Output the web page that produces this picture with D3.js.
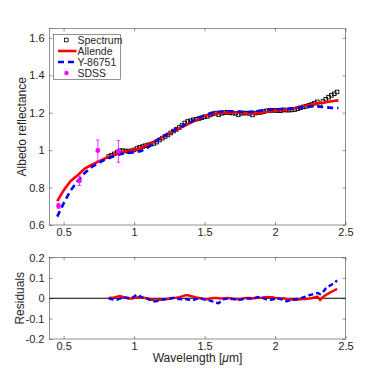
<!DOCTYPE html>
<html>
<head>
<meta charset="utf-8">
<script src="https://cdn.jsdelivr.net/npm/d3@7"></script>
<style>
  body { margin: 0; background: #fff; }
  text { font-family: "Liberation Sans", Arial, Helvetica, sans-serif; fill: #262626; }
</style>
</head>
<body>
<div id="chart"></div>
<script>
// data
var specWave = [0.82, 0.84, 0.86, 0.88, 0.90, 0.92, 0.94, 0.96, 0.98, 1.00,
  1.02, 1.04, 1.06, 1.08, 1.10, 1.12, 1.14, 1.16, 1.18, 1.20,
  1.22, 1.24, 1.26, 1.28, 1.30, 1.32, 1.34, 1.36, 1.38, 1.40,
  1.42, 1.44, 1.46, 1.48, 1.50, 1.52, 1.54, 1.56, 1.58, 1.60,
  1.62, 1.64, 1.66, 1.68, 1.70, 1.72, 1.74, 1.76, 1.78, 1.80,
  1.82, 1.84, 1.86, 1.88, 1.90, 1.92, 1.94, 1.96, 1.98, 2.00,
  2.02, 2.04, 2.06, 2.08, 2.10, 2.12, 2.14, 2.16, 2.18, 2.20,
  2.22, 2.24, 2.26, 2.28, 2.30, 2.32, 2.34, 2.36, 2.38, 2.40,
  2.42, 2.44];
var spectrum = [0.966, 0.973, 0.980, 0.989, 0.997, 0.997, 0.995, 0.995, 0.996, 1.001,
  1.009, 1.015, 1.019, 1.024, 1.028, 1.032, 1.036, 1.043, 1.054, 1.064,
  1.073, 1.081, 1.092, 1.102, 1.111, 1.121, 1.132, 1.145, 1.153, 1.157,
  1.162, 1.165, 1.169, 1.173, 1.178, 1.181, 1.188, 1.194, 1.198, 1.190,
  1.197, 1.200, 1.202, 1.200, 1.198, 1.197, 1.190, 1.197, 1.198, 1.198,
  1.197, 1.188, 1.198, 1.201, 1.202, 1.206, 1.210, 1.211, 1.213, 1.212,
  1.212, 1.211, 1.215, 1.214, 1.214, 1.215, 1.217, 1.222, 1.226, 1.231,
  1.234, 1.239, 1.244, 1.251, 1.258, 1.244, 1.260, 1.272, 1.283, 1.293,
  1.301, 1.311];

var modelWave = [0.455, 0.50, 0.55, 0.60, 0.65, 0.70, 0.75, 0.80, 0.85, 0.90,
  0.95, 1.00, 1.05, 1.10, 1.15, 1.20, 1.25, 1.30, 1.35, 1.40,
  1.45, 1.50, 1.55, 1.60, 1.65, 1.70, 1.75, 1.80, 1.85, 1.90,
  1.95, 2.00, 2.05, 2.10, 2.15, 2.20, 2.25, 2.30, 2.35, 2.40, 2.45];
var allende = [0.728, 0.785, 0.835, 0.866, 0.902, 0.922, 0.940, 0.958, 0.973, 0.986,
  0.995, 1.000, 1.013, 1.030, 1.050, 1.070, 1.089, 1.108, 1.127, 1.146,
  1.165, 1.182, 1.192, 1.198, 1.200, 1.201, 1.201, 1.196, 1.196, 1.200,
  1.205, 1.210, 1.214, 1.219, 1.226, 1.234, 1.243, 1.250, 1.255, 1.261, 1.266];
var y86751 = [0.645, 0.715, 0.785, 0.835, 0.878, 0.910, 0.932, 0.952, 0.966, 0.978,
  0.985, 0.988, 0.995, 1.015, 1.045, 1.070, 1.092, 1.112, 1.132, 1.150,
  1.168, 1.186, 1.198, 1.205, 1.208, 1.208, 1.206, 1.204, 1.206, 1.212,
  1.216, 1.218, 1.220, 1.222, 1.226, 1.230, 1.233, 1.234, 1.230, 1.226, 1.225];

var sdssWave = [0.464, 0.613, 0.743, 0.889];
var sdss = [0.702, 0.836, 0.998, 0.993];
var sdssErr = [0.013, 0.025, 0.056, 0.058];

var resAllende = [0.002, 0.003, 0.004, 0.008, 0.011, 0.007, 0.002, -0.001, -0.002, 0.001,
  0.004, 0.005, 0.003, 0.001, -0.002, -0.006, -0.010, -0.011, -0.008, -0.006,
  -0.005, -0.004, -0.001, 0.002, 0.003, 0.005, 0.009, 0.014, 0.015, 0.011,
  0.008, 0.004, 0.001, -0.002, -0.004, -0.005, -0.002, 0.001, 0.002, 0.000,
  -0.002, 0.000, 0.002, 0.000, -0.003, -0.004, -0.005, -0.003, 0.000, 0.002,
  0.001, -0.001, 0.001, 0.003, 0.002, 0.004, 0.006, 0.005, 0.005, 0.002,
  0.000, -0.002, 0.000, -0.003, -0.005, -0.007, -0.008, -0.006, -0.005, -0.003,
  -0.004, -0.002, 0.000, 0.004, 0.008, -0.008, 0.006, 0.016, 0.024, 0.032,
  0.038, 0.046];
var resY86751 = [-0.002, -0.004, -0.008, -0.006, -0.002, 0.002, 0.004, 0.002, 0.000, 0.008,
  0.018, 0.010, 0.004, 0.002, -0.004, -0.010, -0.016, -0.014, -0.010, -0.006,
  -0.004, -0.002, 0.000, 0.001, -0.002, -0.004, -0.005, -0.003, -0.006, -0.008,
  -0.008, -0.004, 0.000, -0.002, -0.006, -0.009, -0.012, -0.016, -0.022, -0.024,
  -0.012, -0.004, -0.002, -0.004, -0.003, -0.006, -0.008, -0.006, -0.004, -0.002,
  -0.002, -0.001, 0.002, 0.006, 0.005, 0.000, -0.005, -0.008, -0.006, -0.003,
  -0.001, -0.003, -0.010, -0.015, -0.012, -0.008, -0.005, -0.004, 0.000, 0.004,
  0.008, 0.014, 0.018, 0.022, 0.026, 0.020, 0.030, 0.048, 0.058, 0.066,
  0.074, 0.088];

var xTicks = [0.5, 1, 1.5, 2, 2.5];
var yTopTicks = [0.6, 0.8, 1, 1.2, 1.4, 1.6];
var yResTicks = [-0.2, -0.1, 0, 0.1, 0.2];
var legendNames = ["Spectrum", "Allende", "Y-86751", "SDSS"];

var width = 382;
var height = 382;

var left = 49.5;
var right = 345.5;
var topTop = 28.5;
var topBottom = 225;
var resTop = 257.5;
var resBottom = 339;

var svg = d3
  .select("#chart")
  .append("svg")
  .attr("width", width)
  .attr("height", height);

var xScale = d3.scaleLinear().domain([0.4, 2.5]).range([left, right]);
var yScale = d3.scaleLinear().domain([0.6, 1.65]).range([topBottom, topTop]);
var rScale = d3.scaleLinear().domain([-0.2, 0.2]).range([resBottom, resTop]);

var fmt = function (d) {
  return String(d);
};

// draws box + inward ticks on all four sides
function drawFrame(yS, yTicks, y0, y1) {
  var g = svg.append("g");

  g.append("g")
    .attr("transform", "translate(0," + y0 + ")")
    .call(d3.axisBottom(xScale).tickValues(xTicks).tickSize(-3).tickPadding(3).tickFormat(fmt));
  g.append("g")
    .attr("transform", "translate(0," + y1 + ")")
    .call(d3.axisTop(xScale).tickValues(xTicks).tickSize(-3).tickFormat(""));
  g.append("g")
    .attr("transform", "translate(" + left + ",0)")
    .call(d3.axisLeft(yS).tickValues(yTicks).tickSize(-3).tickPadding(5).tickFormat(fmt));
  g.append("g")
    .attr("transform", "translate(" + right + ",0)")
    .call(d3.axisRight(yS).tickValues(yTicks).tickSize(-3).tickFormat(""));

  g.selectAll(".domain").remove();
  g.selectAll(".tick line").attr("stroke", "#262626").attr("stroke-width", 0.5);
  g.selectAll(".tick text")
    .attr("font-size", 11)
    .attr("font-family", "'Liberation Sans', Arial, Helvetica, sans-serif")
    .attr("fill", "#262626");

  g.append("rect")
    .attr("x", left)
    .attr("y", y1)
    .attr("width", right - left)
    .attr("height", y0 - y1)
    .attr("fill", "none")
    .attr("stroke", "#262626")
    .attr("stroke-width", 0.5);
  return g;
}

// top panel
drawFrame(yScale, yTopTicks, topBottom, topTop);

var specPts = specWave.map(function (w, i) {
  return [w, spectrum[i]];
});

svg
  .append("g")
  .selectAll("rect")
  .data(specPts)
  .enter()
  .append("rect")
  .attr("x", function (d) { return xScale(d[0]) - 1.8; })
  .attr("y", function (d) { return yScale(d[1]) - 1.8; })
  .attr("width", 3.6)
  .attr("height", 3.6)
  .attr("fill", "none")
  .attr("stroke", "#000")
  .attr("stroke-width", 0.9);

var topLine = d3
  .line()
  .x(function (d) { return xScale(d[0]); })
  .y(function (d) { return yScale(d[1]); });

svg
  .append("path")
  .datum(modelWave.map(function (w, i) { return [w, allende[i]]; }))
  .attr("d", topLine)
  .attr("fill", "none")
  .attr("stroke", "#ff0000")
  .attr("stroke-width", 2.6);

svg
  .append("path")
  .datum(modelWave.map(function (w, i) { return [w, y86751[i]]; }))
  .attr("d", topLine)
  .attr("fill", "none")
  .attr("stroke", "#0000ff")
  .attr("stroke-width", 2.6)
  .attr("stroke-dasharray", "6,4");

// SDSS with error bars
var sdssG = svg.append("g");
sdssWave.forEach(function (w, i) {
  var cx = xScale(w);
  var yLo = yScale(sdss[i] - sdssErr[i]);
  var yHi = yScale(sdss[i] + sdssErr[i]);
  sdssG.append("line")
    .attr("x1", cx).attr("x2", cx).attr("y1", yLo).attr("y2", yHi)
    .attr("stroke", "#ff00ff").attr("stroke-width", 0.8);
  sdssG.append("line")
    .attr("x1", cx - 1.8).attr("x2", cx + 1.8).attr("y1", yLo).attr("y2", yLo)
    .attr("stroke", "#ff00ff").attr("stroke-width", 0.8);
  sdssG.append("line")
    .attr("x1", cx - 1.8).attr("x2", cx + 1.8).attr("y1", yHi).attr("y2", yHi)
    .attr("stroke", "#ff00ff").attr("stroke-width", 0.8);
  sdssG.append("circle")
    .attr("cx", cx).attr("cy", yScale(sdss[i])).attr("r", 2.4)
    .attr("fill", "#ff00ff");
});

// legend
var legend = svg.append("g").attr("transform", "translate(53.5,34.5)");
legend
  .append("rect")
  .attr("width", 67)
  .attr("height", 45)
  .attr("fill", "#fff")
  .attr("stroke", "#262626")
  .attr("stroke-width", 0.5);

legendNames.forEach(function (name, i) {
  var cy = 5.5 + i * 11;
  if (i === 0) {
    legend.append("rect")
      .attr("x", 11).attr("y", cy - 1.8).attr("width", 3.6).attr("height", 3.6)
      .attr("fill", "none").attr("stroke", "#000").attr("stroke-width", 0.8);
  } else if (i === 1) {
    legend.append("line")
      .attr("x1", 4.5).attr("x2", 23).attr("y1", cy).attr("y2", cy)
      .attr("stroke", "#ff0000").attr("stroke-width", 2.6);
  } else if (i === 2) {
    legend.append("line")
      .attr("x1", 4.5).attr("x2", 23).attr("y1", cy).attr("y2", cy)
      .attr("stroke", "#0000ff").attr("stroke-width", 2.6)
      .attr("stroke-dasharray", "6,4");
  } else {
    legend.append("circle")
      .attr("cx", 13).attr("cy", cy).attr("r", 2.2).attr("fill", "#ff00ff");
  }
  legend.append("text")
    .attr("x", 24)
    .attr("y", cy + 4)
    .attr("font-size", 10.5)
    .text(name);
});

// residual panel
drawFrame(rScale, yResTicks, resBottom, resTop);

svg
  .append("line")
  .attr("x1", left)
  .attr("x2", right)
  .attr("y1", rScale(0))
  .attr("y2", rScale(0))
  .attr("stroke", "#000")
  .attr("stroke-width", 1);

var resLine = d3
  .line()
  .x(function (d) { return xScale(d[0]); })
  .y(function (d) { return rScale(d[1]); });

svg
  .append("path")
  .datum(specWave.map(function (w, i) { return [w, resAllende[i]]; }))
  .attr("d", resLine)
  .attr("fill", "none")
  .attr("stroke", "#ff0000")
  .attr("stroke-width", 2.4);

svg
  .append("path")
  .datum(specWave.map(function (w, i) { return [w, resY86751[i]]; }))
  .attr("d", resLine)
  .attr("fill", "none")
  .attr("stroke", "#0000ff")
  .attr("stroke-width", 2.4)
  .attr("stroke-dasharray", "5,3");

// axis labels
svg
  .append("text")
  .attr("transform", "translate(26," + (topTop + topBottom) / 2 + ")rotate(-90)")
  .attr("text-anchor", "middle")
  .attr("font-size", 12)
  .text("Albedo reflectance");

svg
  .append("text")
  .attr("transform", "translate(24," + (resTop + resBottom) / 2 + ")rotate(-90)")
  .attr("text-anchor", "middle")
  .attr("font-size", 12)
  .text("Residuals");

var xLabel = svg
  .append("text")
  .attr("x", (left + right) / 2)
  .attr("y", 362)
  .attr("text-anchor", "middle")
  .attr("font-size", 12);
xLabel.append("tspan").text("Wavelength [");
xLabel.append("tspan").attr("font-style", "italic").text("\u03bc");
xLabel.append("tspan").text("m]");
</script>
</body>
</html>
